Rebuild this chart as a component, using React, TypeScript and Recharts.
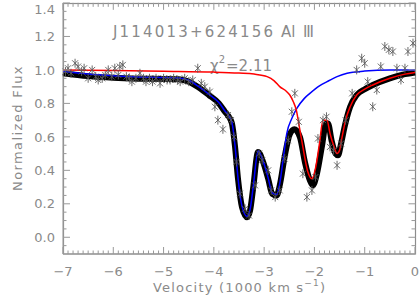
import { ComposedChart, Line, Scatter, XAxis, YAxis } from "recharts";

const AXIS = "#999999";
const TEXT = "#8a8a8a";
const FONT = "'DejaVu Sans', sans-serif";

// tick positions
const X_MAJOR = [-7, -6, -5, -4, -3, -2, -1, 0];
const Y_MAJOR = [0, 0.2, 0.4, 0.6, 0.8, 1.0, 1.2, 1.4];
const X_TICKS: number[] = [];
for (let i = -70; i <= 0; i++) X_TICKS.push(i / 10);
const Y_TICKS: number[] = [];
for (let i = -1; i <= 28; i++) Y_TICKS.push(i / 20);

// total fit (black)
const FIT: [number, number][] = [
  [-7.0, 0.98], [-6.5, 0.963], [-6.0, 0.953], [-5.5, 0.948], [-5.0, 0.946],
  [-4.7, 0.944], [-4.5, 0.93], [-4.3, 0.895], [-4.1, 0.85], [-3.9, 0.8],
  [-3.78, 0.75], [-3.68, 0.71], [-3.64, 0.68], [-3.58, 0.545], [-3.52, 0.35],
  [-3.44, 0.18], [-3.34, 0.12], [-3.28, 0.16], [-3.22, 0.29], [-3.12, 0.51],
  [-3.02, 0.45], [-2.92, 0.35], [-2.84, 0.26], [-2.75, 0.25], [-2.69, 0.31],
  [-2.59, 0.485], [-2.49, 0.615], [-2.4, 0.645], [-2.29, 0.6], [-2.19, 0.45],
  [-2.09, 0.34], [-2.03, 0.31], [-1.95, 0.38], [-1.85, 0.545], [-1.77, 0.68],
  [-1.73, 0.68], [-1.66, 0.58], [-1.58, 0.5], [-1.53, 0.49], [-1.47, 0.56],
  [-1.4, 0.66], [-1.29, 0.78], [-1.16, 0.85], [-1.0, 0.885], [-0.84, 0.91],
  [-0.5, 0.95], [-0.2, 0.975], [0, 0.985],
];

// high-velocity component (blue)
const BLUE: [number, number][] = [
  [-7.0, 0.99], [-6.5, 0.975], [-6.0, 0.965], [-5.5, 0.958], [-5.0, 0.955],
  [-4.7, 0.952], [-4.5, 0.938], [-4.3, 0.9], [-4.1, 0.855], [-3.9, 0.805],
  [-3.78, 0.755], [-3.68, 0.715], [-3.64, 0.685], [-3.58, 0.55], [-3.52, 0.355],
  [-3.44, 0.185], [-3.34, 0.125], [-3.28, 0.165], [-3.22, 0.295], [-3.12, 0.515],
  [-3.02, 0.455], [-2.92, 0.355], [-2.84, 0.265], [-2.75, 0.255], [-2.69, 0.32],
  [-2.62, 0.47], [-2.55, 0.62], [-2.45, 0.71], [-2.35, 0.77], [-2.2, 0.83],
  [-2.09, 0.86], [-1.9, 0.905], [-1.75, 0.93], [-1.55, 0.96], [-1.35, 0.98],
  [-1.0, 0.993], [-0.5, 1.0], [0, 1.0],
];

// low-velocity component (red)
const RED: [number, number][] = [
  [-7.0, 1.0], [-6.0, 0.996], [-5.0, 0.992], [-4.0, 0.987], [-3.5, 0.981],
  [-3.2, 0.975], [-2.94, 0.96], [-2.8, 0.935], [-2.69, 0.9], [-2.55, 0.87],
  [-2.49, 0.85], [-2.42, 0.81], [-2.36, 0.76], [-2.3, 0.66], [-2.23, 0.54],
  [-2.13, 0.39], [-2.05, 0.35], [-1.98, 0.41], [-1.9, 0.56], [-1.83, 0.7],
  [-1.75, 0.7], [-1.69, 0.62], [-1.62, 0.55], [-1.55, 0.5], [-1.5, 0.52],
  [-1.45, 0.6], [-1.38, 0.7], [-1.29, 0.78], [-1.16, 0.85], [-1.0, 0.885],
  [-0.84, 0.91], [-0.5, 0.95], [-0.2, 0.975], [0, 0.985],
];

// observed spectrum (asterisks)
const OBS: [number, number][] = [
  [-6.95, 0.99], [-6.9, 1.01], [-6.84, 0.98], [-6.76, 1.04], [-6.7, 1.02],
  [-6.63, 0.99], [-6.58, 1.01], [-6.5, 0.95], [-6.42, 1.0], [-6.35, 0.96],
  [-6.3, 0.94], [-6.22, 0.95], [-6.16, 0.97], [-6.1, 1.0], [-6.03, 0.96],
  [-5.97, 1.01], [-5.9, 0.97], [-5.87, 1.02], [-5.81, 1.03], [-5.74, 0.96],
  [-5.68, 0.95], [-5.63, 0.93], [-5.55, 0.95], [-5.47, 0.98], [-5.4, 0.95],
  [-5.35, 0.93], [-5.28, 0.95], [-5.22, 0.93], [-5.15, 0.95], [-5.07, 0.92],
  [-5.0, 0.95], [-4.93, 0.94], [-4.87, 0.94], [-4.8, 0.95], [-4.72, 0.94],
  [-4.67, 0.93], [-4.58, 0.95], [-4.5, 0.93], [-4.42, 0.94], [-4.32, 1.01],
  [-4.25, 0.92], [-4.18, 0.9], [-4.08, 0.87], [-3.98, 0.78], [-3.92, 0.7],
  [-3.82, 0.645], [-3.72, 0.73], [-3.66, 0.7], [-3.6, 0.6], [-3.55, 0.45],
  [-3.48, 0.26], [-3.38, 0.17], [-3.3, 0.13], [-3.18, 0.31], [-3.1, 0.5],
  [-3.04, 0.46], [-2.92, 0.4], [-2.86, 0.28], [-2.78, 0.24], [-2.69, 0.28],
  [-2.59, 0.47], [-2.52, 0.58], [-2.45, 0.75], [-2.39, 0.86], [-2.31, 0.69],
  [-2.23, 0.38], [-2.15, 0.24], [-2.05, 0.28], [-1.98, 0.36], [-1.93, 0.59],
  [-1.83, 0.7], [-1.76, 0.72], [-1.69, 0.54], [-1.62, 0.52], [-1.55, 0.43],
  [-1.47, 0.56], [-1.38, 0.7], [-1.25, 0.86], [-1.16, 1.0], [-1.06, 1.07],
  [-1.0, 1.04], [-0.94, 0.93], [-0.84, 0.78], [-0.76, 0.88], [-0.68, 1.02],
  [-0.6, 1.14], [-0.52, 1.12], [-0.44, 1.11], [-0.36, 1.01], [-0.28, 0.94],
  [-0.2, 1.01], [-0.14, 1.11], [-0.04, 1.16],
];

const rows = (a: [number, number][]) => a.map(([v, f]) => ({ v, f }));

const near = (list: number[], v: number) => list.some((m) => Math.abs(m - v) < 1e-6);
const fmtX = (v: number) => (Math.abs(v) < 1e-9 ? "0" : "\u2212" + Math.abs(v));

// inward ticks for the top and right sides of the box
const TOP_TICKS = X_TICKS.map((t) => ({ v: t, f: 1.395, major: near(X_MAJOR, t) }));
const RIGHT_TICKS = Y_TICKS.map((t) => ({ v: -0.01, f: t, major: near(Y_MAJOR, t) }));

// plot box in px (matches margins + axis sizes below)
const BOX = { x: 63, y: 3, w: 352, h: 251 };

function BottomTick({ x, y, payload }: any) {
  const major = near(X_MAJOR, payload.value);
  return (
    <g>
      <line x1={x} x2={x} y1={y} y2={y - (major ? 7 : 3.5)} stroke={AXIS} />
      {major && (
        <text x={x} y={y + 22} textAnchor="middle" fill={TEXT} fontSize={13} fontFamily={FONT}>
          {fmtX(payload.value)}
        </text>
      )}
    </g>
  );
}

function LeftTick({ x, y, payload }: any) {
  const major = near(Y_MAJOR, payload.value);
  return (
    <g>
      <line x1={x} x2={x + (major ? 7 : 3.5)} y1={y} y2={y} stroke={AXIS} />
      {major && (
        <text x={x - 8} y={Math.max(y, 9)} dy="0.36em" textAnchor="end" fill={TEXT} fontSize={13} fontFamily={FONT}>
          {payload.value.toFixed(1)}
        </text>
      )}
    </g>
  );
}

function TopMark({ cx, cy, payload }: any) {
  if (cx == null) return null;
  const major = payload && payload.major;
  return <line x1={cx} x2={cx} y1={cy - 1} y2={cy + (major ? 6 : 3)} stroke={AXIS} strokeWidth={1} />;
}

function RightMark({ cx, cy, payload }: any) {
  if (cx == null) return null;
  const major = payload && payload.major;
  return <line x1={cx + 1} x2={cx - (major ? 6 : 3)} y1={cy} y2={cy} stroke={AXIS} strokeWidth={1} />;
}

function Asterisk({ cx, cy }: any) {
  if (cx == null || cy == null) return null;
  return (
    <g stroke="#5a5a5a" strokeWidth={0.9}>
      <line x1={cx} x2={cx} y1={cy - 4.5} y2={cy + 4.5} />
      <line x1={cx - 3} x2={cx + 3} y1={cy - 3} y2={cy + 3} />
      <line x1={cx - 3} x2={cx + 3} y1={cy + 3} y2={cy - 3} />
    </g>
  );
}

export default function App() {
  return (
    <div style={{ position: "absolute", left: 0, top: 0, background: "#fff" }}>
      <ComposedChart width={420} height={300} margin={{ top: 3, right: 5, bottom: 0, left: 0 }}>
        <XAxis
          dataKey="v"
          type="number"
          domain={[-7, 0]}
          ticks={X_TICKS}
          interval={0}
          height={46}
          tickSize={0}
          tickMargin={0}
          tickLine={false}
          axisLine={{ stroke: AXIS }}
          tick={(p: any) => <BottomTick {...p} />}
        />
        <YAxis
          dataKey="f"
          type="number"
          domain={[-0.1, 1.4]}
          ticks={Y_TICKS}
          interval={0}
          width={63}
          tickSize={0}
          tickMargin={0}
          tickLine={false}
          axisLine={{ stroke: AXIS }}
          tick={(p: any) => <LeftTick {...p} />}
        />
        <rect x={BOX.x + 0.5} y={BOX.y + 0.5} width={BOX.w} height={BOX.h - 0.5} fill="none" stroke="#8c8c8c" strokeWidth={1.2} />
        <Scatter data={TOP_TICKS} dataKey="f" shape={(p: any) => <TopMark {...p} />} isAnimationActive={false} />
        <Scatter data={RIGHT_TICKS} dataKey="f" shape={(p: any) => <RightMark {...p} />} isAnimationActive={false} />
        <Scatter data={rows(OBS)} dataKey="f" shape={(p: any) => <Asterisk {...p} />} isAnimationActive={false} />
        <Line data={rows(FIT)} dataKey="f" type="monotone" stroke="#000" strokeWidth={6} dot={false} isAnimationActive={false} />
        <Line data={rows(BLUE)} dataKey="f" type="monotone" stroke="#0000ff" strokeWidth={1.5} dot={false} isAnimationActive={false} />
        <Line data={rows(RED)} dataKey="f" type="monotone" stroke="#ff0000" strokeWidth={1.5} dot={false} isAnimationActive={false} />
        <g fontFamily={FONT} fill={TEXT}>
          <text x={113} y={37} fontSize={15} textLength={160} lengthAdjust="spacing">J114013+624156</text>
          <text x={281} y={37} fontSize={15}>Al</text>
          <text x={303} y={37} fontSize={15} textLength={11} lengthAdjust="spacing">III</text>
          <text x={210} y={71} fontSize={15}>
            χ<tspan dy={-8} fontSize={10}>2</tspan>
            <tspan dy={8} dx={1}>=2.11</tspan>
          </text>
          <text x={153} y={292} fontSize={13} letterSpacing={1.2}>
            Velocity (1000 km s<tspan dy={-6} fontSize={9}>−1</tspan>
            <tspan dy={6}>)</tspan>
          </text>
          <text transform="translate(22,128) rotate(-90)" textAnchor="middle" fontSize={13} letterSpacing={1.4}>
            Normalized Flux
          </text>
        </g>
      </ComposedChart>
    </div>
  );
}
